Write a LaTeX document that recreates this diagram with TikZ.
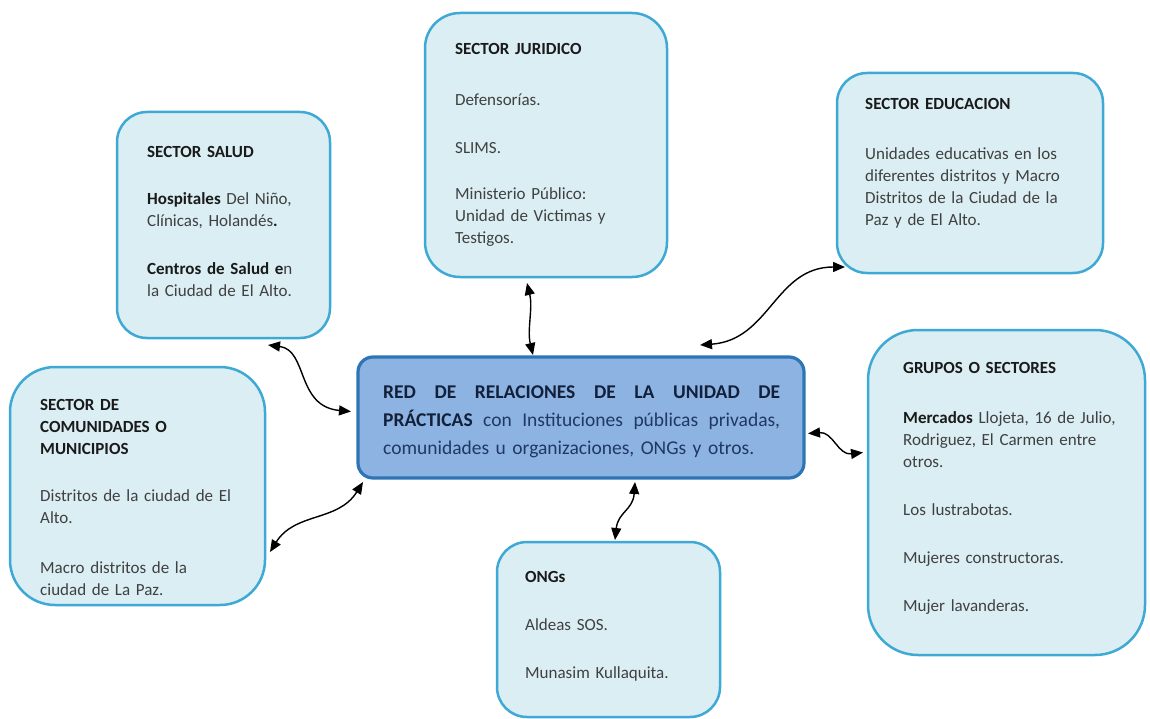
\documentclass[tikz,border=0pt]{standalone}
\usepackage{fontspec}
\setmainfont{Carlito}
\usetikzlibrary{arrows.meta}
\definecolor{boxfill}{HTML}{DAEEF3}
\definecolor{boxline}{HTML}{3FA9D6}
\definecolor{cfill}{HTML}{8DB3E2}
\definecolor{cline}{HTML}{2E75B6}
\definecolor{txt}{HTML}{404040}
\definecolor{tcol}{HTML}{1A1A1A}
\definecolor{ctxt}{HTML}{1F3864}
\definecolor{cbold}{HTML}{13203A}
\newcommand{\mybold}[1]{\textcolor{tcol}{\bfseries #1}}
\newcommand{\mycbold}[1]{\textcolor{cbold}{\bfseries #1}}
\begin{document}
\begin{tikzpicture}[x=1pt,y=-1pt,
  sbox/.style={draw=boxline, line width=2.5pt, fill=boxfill, inner sep=0pt, outer sep=0pt},
  cbox/.style={draw=cline, line width=3.2pt, fill=cfill, rounded corners=15pt, inner sep=0pt, outer sep=0pt},
  btxt/.style={anchor=base west, inner sep=0pt, text width=260pt, align=left, text=txt, font=\fontsize{17}{22}\selectfont},
  conn/.style={{Triangle[length=12pt,width=10pt]}-{Triangle[length=12pt,width=10pt]}, line width=1.4pt, black}
]
\fill[white] (0,0) rectangle (1150,719);
\useasboundingbox (0,0) rectangle (1150,719);

% boxes
\node[sbox, rounded corners=30pt, minimum width=213pt, minimum height=226pt] (salud) at (223.5,225) {};
\node[sbox, rounded corners=35pt, minimum width=242pt, minimum height=264pt] (juridico) at (546,145) {};
\node[sbox, rounded corners=30pt, minimum width=266pt, minimum height=200pt] (educ) at (970,173) {};
\node[sbox, rounded corners=45pt, minimum width=255pt, minimum height=238pt] (comun) at (137.5,486) {};
\node[sbox, rounded corners=50pt, minimum width=277pt, minimum height=325pt] (grupos) at (1006.5,492.5) {};
\node[sbox, rounded corners=30pt, minimum width=223pt, minimum height=175pt] (ongs) at (608.5,629.5) {};
\node[cbox, minimum width=446pt, minimum height=121pt] (center) at (581,417.5) {};

% texts
\node[btxt] (saludtxt) at (147,158) {\mybold{SECTOR SALUD}\\[25pt]
\mybold{Hospitales} Del Niño,\\
Clínicas, Holandés\mybold{.}\\[26pt]
\mybold{Centros de Salud e}n\\
la Ciudad de El Alto.};

\node[btxt] (juridicotxt) at (455,55) {\mybold{SECTOR JURIDICO}\\[29pt]
Defensorías.\\[26pt]
SLIMS.\\[24pt]
Ministerio Público:\\
Unidad de Victimas y\\
Testigos.};

\node[btxt] (eductxt) at (865,110) {\mybold{SECTOR EDUCACION}\\[28pt]
Unidades educativas en los\\
diferentes distritos y Macro\\
Distritos de la Ciudad de la\\
Paz y de El Alto.};

\node[btxt] (comuntxt) at (40,410) {\mybold{SECTOR DE}\\
\mybold{COMUNIDADES O}\\
\mybold{MUNICIPIOS}\\[25pt]
Distritos de la ciudad de El\\
Alto.\\[28pt]
Macro distritos de la\\
ciudad de La Paz.};

\node[btxt] (grupostxt) at (903,373) {\mybold{GRUPOS O SECTORES}\\[28pt]
\mybold{Mercados} Llojeta, 16 de Julio,\\
Rodriguez, El Carmen entre\\
otros.\\[26pt]
Los lustrabotas.\\[26pt]
Mujeres constructoras.\\[26pt]
Mujer lavanderas.};

\node[btxt] (ongstxt) at (525,582) {\mybold{ONGs}\\[26pt]
Aldeas SOS.\\[26pt]
Munasim Kullaquita.};

\node[anchor=base west, inner sep=0pt, text width=400pt, align=left, text=ctxt,
  font=\fontsize{19.5}{28}\selectfont] (ctext) at (383,398) {%
\makebox[397pt][l]{\mycbold{RED\hfill DE\hfill RELACIONES\hfill DE\hfill LA\hfill UNIDAD\hfill DE}}\\
\makebox[397pt][l]{\mycbold{PRÁCTICAS}\hfill con\hfill Instituciones\hfill públicas\hfill privadas,}\\
comunidades u organizaciones, ONGs y otros.};

% connectors
\draw[conn] ([shift={(-62,7)}]salud.south east) .. controls +(40,5) and +(-55,-5) .. ([shift={(-7,-6)}]center.west);
\draw[conn] ([shift={(5,4)}]center.south west) .. controls +(-25,40) and +(25,-40) .. ([shift={(5,66)}]comun.east);
\draw[conn] ([shift={(-19,6)}]juridico.south) .. controls +(6,25) and +(-6,-25) .. ([shift={(-48,-2)}]center.north);
\draw[conn] ([shift={(-104,-12)}]center.north east) .. controls +(70,-5) and +(-70,0) .. ([shift={(8,-6)}]educ.south west);
\draw[conn] ([shift={(4,16)}]center.east) .. controls +(25,-2) and +(-25,3) .. ([shift={(-5,-40)}]grupos.west);
\draw[conn] ([shift={(54,4)}]center.south) .. controls +(-2,28) and +(3,-28) .. ([shift={(6.5,-2)}]ongs.north);
\end{tikzpicture}
\end{document}
